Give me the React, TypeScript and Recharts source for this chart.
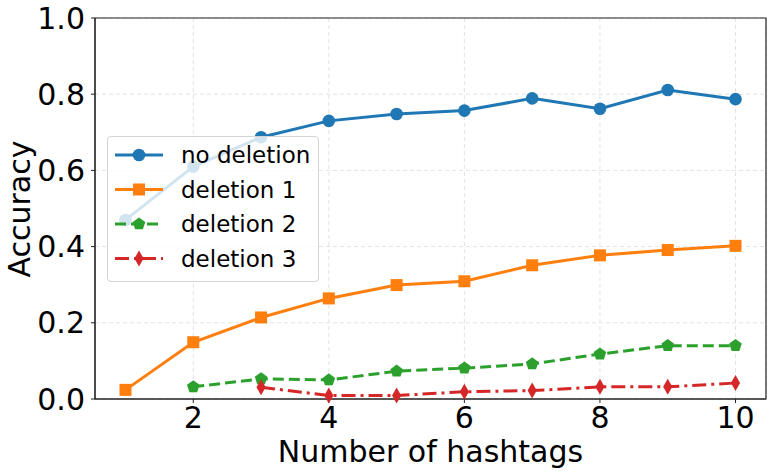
import { LineChart, Line, XAxis, YAxis, CartesianGrid, Legend, ReferenceArea } from 'recharts';

const hashtags = [1, 2, 3, 4, 5, 6, 7, 8, 9, 10];
const noDeletion = [0.47, 0.61, 0.687, 0.73, 0.748, 0.757, 0.789, 0.762, 0.811, 0.787];
const deletion1 = [0.024, 0.149, 0.214, 0.264, 0.299, 0.309, 0.351, 0.377, 0.391, 0.402];
const deletion2 = [null, 0.032, 0.053, 0.05, 0.073, 0.081, 0.092, 0.118, 0.14, 0.14];
const deletion3 = [null, null, 0.031, 0.009, 0.009, 0.019, 0.022, 0.032, 0.032, 0.042];

const xTicks = [2, 4, 6, 8, 10];
const yTicks = [0, 0.2, 0.4, 0.6, 0.8, 1.0];

const FONT = '"DejaVu Sans", sans-serif';
const BLUE = '#1f77b4';
const ORANGE = '#ff7f0e';
const GREEN = '#2ca02c';
const RED = '#d62728';

const data = hashtags.map((x, i) => ({
  x,
  noDeletion: noDeletion[i],
  deletion1: deletion1[i],
  deletion2: deletion2[i],
  deletion3: deletion3[i],
}));

type Shape = 'circle' | 'square' | 'pentagon' | 'diamond';

function marker(shape: Shape, cx: number, cy: number, color: string) {
  if (shape === 'circle') return <circle cx={cx} cy={cy} r={6.3} fill={color} />;
  if (shape === 'square') return <rect x={cx - 6} y={cy - 6} width={12} height={12} fill={color} />;
  if (shape === 'pentagon') {
    const pts = [0, 1, 2, 3, 4]
      .map((k) => {
        const a = -Math.PI / 2 + (k * 2 * Math.PI) / 5;
        return `${cx + 6.6 * Math.cos(a)},${cy + 6.6 * Math.sin(a)}`;
      })
      .join(' ');
    return <polygon points={pts} fill={color} />;
  }
  return <polygon points={`${cx},${cy - 8} ${cx + 4.6},${cy} ${cx},${cy + 8} ${cx - 4.6},${cy}`} fill={color} />;
}

const makeDot = (shape: Shape, color: string) => (props: any) => {
  const { cx, cy, index } = props;
  if (cx == null || cy == null || props.value == null) return <g key={`d-${index}`} />;
  return <g key={`d-${index}`}>{marker(shape, cx, cy, color)}</g>;
};

const legendItems: { name: string; color: string; shape: Shape; dash?: string }[] = [
  { name: 'no deletion', color: BLUE, shape: 'circle' },
  { name: 'deletion 1', color: ORANGE, shape: 'square' },
  { name: 'deletion 2', color: GREEN, shape: 'pentagon', dash: '11 5' },
  { name: 'deletion 3', color: RED, shape: 'diamond', dash: '14 5 3 5' },
];

function LegendBox() {
  return (
    <div
      style={{
        width: 212,
        height: 146,
        boxSizing: 'border-box',
        border: '1px solid #d4d4d4',
        borderRadius: 4,
        background: 'rgba(255,255,255,0.8)',
      }}
    >
      <svg width={210} height={144}>
        {legendItems.map((it, i) => {
          const cy = 18 + i * 34.5;
          return (
            <g key={it.name}>
              <line x1={7} x2={55} y1={cy} y2={cy} stroke={it.color} strokeWidth={3} strokeDasharray={it.dash} />
              {marker(it.shape, 31, cy, it.color)}
              <text x={73} y={cy + 8} fontSize={23} fontFamily={FONT} fill="#000">
                {it.name}
              </text>
            </g>
          );
        })}
      </svg>
    </div>
  );
}

export default function App() {
  return (
    <div style={{ position: 'absolute', left: 0, top: 0, background: '#fff' }}>
      <LineChart width={775} height={475} data={data} margin={{ top: 18, right: 9, left: 0, bottom: 0 }}>
        <CartesianGrid stroke="#e3e3e3" strokeDasharray="4 3" />
        <XAxis
          dataKey="x"
          type="number"
          domain={[0.55, 10.45]}
          ticks={xTicks}
          allowDataOverflow
          height={76}
          tickSize={4}
          tickMargin={4}
          stroke="#222"
          tick={{ fontSize: 30, fill: '#000', fontFamily: FONT }}
          label={() => (
            <text x={430.5} y={462} textAnchor="middle" fontSize={30} fontFamily={FONT} fill="#000">
              Number of hashtags
            </text>
          )}
        />
        <YAxis
          type="number"
          domain={[0, 1]}
          ticks={yTicks}
          width={95}
          tickSize={4}
          tickMargin={6}
          stroke="#222"
          tickFormatter={(v: number) => v.toFixed(1)}
          tick={{ fontSize: 30, fill: '#000', fontFamily: FONT }}
          label={() => (
            <text x={30} y={209} transform="rotate(-90 30 209)" textAnchor="middle" fontSize={30} fontFamily={FONT} fill="#000">
              Accuracy
            </text>
          )}
        />
        <ReferenceArea x1={0.55} x2={10.45} y1={0} y2={1} fill="none" stroke="#222" strokeWidth={1.2} />
        <Line dataKey="noDeletion" stroke={BLUE} strokeWidth={3} dot={makeDot('circle', BLUE)} isAnimationActive={false} />
        <Line dataKey="deletion1" stroke={ORANGE} strokeWidth={3} dot={makeDot('square', ORANGE)} isAnimationActive={false} />
        <Line dataKey="deletion2" stroke={GREEN} strokeWidth={3} strokeDasharray="11 5" dot={makeDot('pentagon', GREEN)} isAnimationActive={false} />
        <Line dataKey="deletion3" stroke={RED} strokeWidth={3} strokeDasharray="14 5 3 5" dot={makeDot('diamond', RED)} isAnimationActive={false} />
        <Legend
          layout="vertical"
          align="center"
          verticalAlign="middle"
          content={() => <LegendBox />}
          wrapperStyle={{ left: 107, top: 136, width: 212, height: 146 }}
        />
      </LineChart>
    </div>
  );
}
